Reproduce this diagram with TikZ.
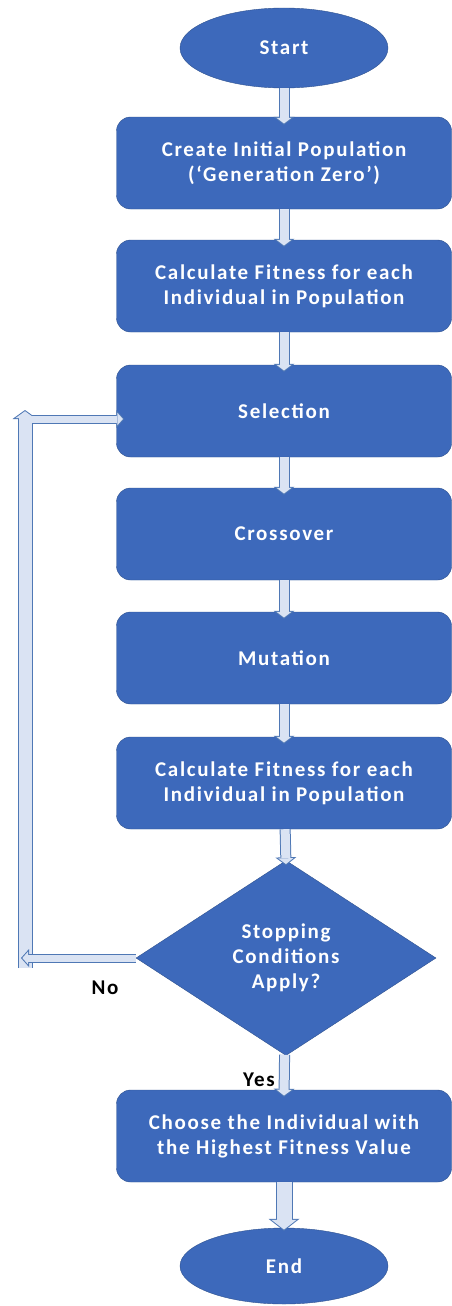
\documentclass[tikz,border=0pt]{standalone}
\usepackage{fontspec}
\setmainfont{Carlito}[LetterSpace=8]
\usetikzlibrary{arrows.meta,positioning,shapes.geometric}
\definecolor{boxblue}{HTML}{3D69BB}
\definecolor{boxline}{HTML}{2F528F}
\definecolor{arrfill}{HTML}{DAE3F3}
\definecolor{arrline}{HTML}{4F78B5}

\begin{document}
\begin{tikzpicture}[x=1pt,y=-1pt,font=\fontsize{21}{25}\selectfont\bfseries,
  b/.style={draw=boxline,fill=boxblue,text=white,rounded corners=14pt,minimum width=335pt,minimum height=92pt,align=center,inner sep=2pt},
  oval/.style={ellipse,draw=boxline,fill=boxblue,text=white,minimum width=208pt,minimum height=80pt,inner sep=0pt},
  dec/.style={diamond,draw=boxline,fill=boxblue,text=white,minimum width=300pt,minimum height=195pt,align=center,inner sep=0pt},
  flow/.style={draw=arrline,line width=11pt,-{Triangle[length=8pt,width=21pt,line width=0pt]},
    postaction={draw=arrfill,line width=9pt,shorten >=1.26pt,-{Triangle[length=5.74pt,width=15.1pt,line width=0pt]}}},
  bigflow/.style={draw=arrline,line width=17pt,-{Triangle[length=12pt,width=31pt,line width=0pt]},
    postaction={draw=arrfill,line width=15pt,shorten >=1.26pt,-{Triangle[length=9.74pt,width=25.2pt,line width=0pt]}}},
  loopv/.style={draw=arrline,line width=15pt,-{Triangle[length=9pt,width=25pt,line width=0pt]},
    postaction={draw=arrfill,line width=13pt,shorten >=1.23pt,-{Triangle[length=6.77pt,width=18.8pt,line width=0pt]}}},
  looph/.style={draw=arrline,line width=9pt,-{Triangle[length=8pt,width=18pt,line width=0pt]},
    postaction={draw=arrfill,line width=7pt,shorten >=1.34pt,-{Triangle[length=5.66pt,width=12.7pt,line width=0pt]}}}]
\useasboundingbox (0,0) rectangle (451,1306);

\node[oval] (start) at (284,48) {Start};
\node[b] (create) at (284,163) {Create Initial Population\\(‘Generation Zero’)};
\node[b] (fit1) at (284,286) {Calculate Fitness for each\\Individual in Population};
\node[b] (sel) at (284,411) {Selection};
\node[b] (cross) at (284,534) {Crossover};
\node[b] (mut) at (284,658) {Mutation};
\node[b] (fit2) at (284,783) {Calculate Fitness for each\\Individual in Population};
\node[dec] (stop) at (286,958) {Stopping\\Conditions\\Apply?};
\node[b] (choose) at (284,1136) {Choose the Individual with\\the Highest Fitness Value};
\node[oval,minimum height=76pt] (end) at (284,1266) {End};

\node (no) at (105,988) {No};
\node (yes) at (259,1080) {Yes};

\draw[flow] (start) -- ([yshift=-8pt]create.north);
\draw[flow] (create) -- ([yshift=-7pt]fit1.north);
\draw[flow] (fit1) -- ([yshift=-7pt]sel.north);
\draw[flow] (sel) -- ([yshift=-7pt]cross.north);
\draw[flow] (cross) -- ([yshift=-7pt]mut.north);
\draw[flow] (mut) -- ([yshift=-7pt]fit2.north);
\draw[flow] (fit2) -- ([yshift=-5pt]stop.north);
\draw[flow] (stop) -- ([yshift=-7pt]choose.north);
\draw[bigflow] (choose) -- ([yshift=-3pt]end.north);

% loop back to selection
\coordinate (lb) at (25,968);
\coordinate (lt) at (25,410);
\coordinate (lr) at (32,419);
\coordinate (ll) at (21,958);
\draw[loopv] (lb) -- (lt);
\draw[looph] (stop.west) -- (ll);
\draw[looph] (lr) -- ([xshift=8pt]sel.west |- lr);
\end{tikzpicture}
\end{document}
